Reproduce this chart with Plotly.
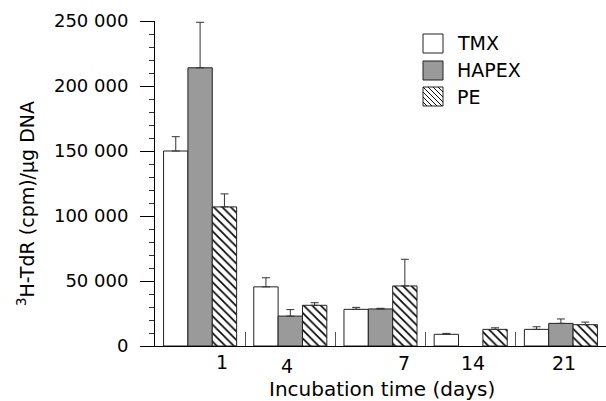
import plotly.graph_objects as go

# ---- data ----
days = ["1", "4", "7", "14", "21"]
tmx = [150000, 45500, 28200, 9000, 12800]
tmx_err = [11000, 7000, 1500, 700, 2000]
hapex = [214000, 23000, 28500, None, 17400]
hapex_err = [35000, 5000, 500, 0, 3400]
pe = [107000, 31300, 46200, 12800, 16400]
pe_err = [10000, 2000, 20500, 1200, 2000]
series_names = ["TMX", "HAPEX", "PE"]
y_tickvals = [0, 50000, 100000, 150000, 200000, 250000]
y_ticktext = ["0", "50 000", "100 000", "150 000", "200 000", "250 000"]

# ---- layout geometry (pixels) ----
W, H = 606, 401
L, R, T, B = 155, 0, 21, 55
PW, PH = W - L - R, H - T - B
FONT = "DejaVu Sans, Arial, sans-serif"
GRAY = "#9a9a9a"
EDGE = "#222222"


def px(xp):
    return (xp - L) / PW


def py(yp):
    return (H - B - yp) / PH


fig = go.Figure()

err_style = dict(type="data", symmetric=False, thickness=1, width=4, color="#333333")

fig.add_trace(go.Bar(
    x=days, y=tmx, name=series_names[0],
    marker=dict(color="white", line=dict(color=EDGE, width=1)),
    error_y=dict(array=tmx_err, arrayminus=[0] * len(days), **err_style),
))
fig.add_trace(go.Bar(
    x=days, y=hapex, name=series_names[1],
    marker=dict(color=GRAY, line=dict(color=EDGE, width=1)),
    error_y=dict(array=hapex_err, arrayminus=[0] * len(days), **err_style),
))
fig.add_trace(go.Bar(
    x=days, y=pe, name=series_names[2],
    marker=dict(color="white", line=dict(color=EDGE, width=1),
                pattern=dict(shape="\\", fgcolor="#000000", bgcolor="white",
                             fgopacity=1, size=6, solidity=0.27)),
    error_y=dict(array=pe_err, arrayminus=[0] * len(days), **err_style),
))

# ---- custom legend ----
shapes = []
annotations = []
leg_x0, leg_x1 = 423, 443
leg_rows = [(34, 53), (61, 80), (87, 106)]
leg_fill = ["white", GRAY, "white"]
for i, (y0, y1) in enumerate(leg_rows):
    shapes.append(dict(type="rect", xref="paper", yref="paper",
                       x0=px(leg_x0), x1=px(leg_x1), y0=py(y1), y1=py(y0),
                       fillcolor=leg_fill[i], line=dict(color=EDGE, width=1)))
    annotations.append(dict(text=series_names[i], xref="paper", yref="paper",
                            x=px(455), y=py((y0 + y1) / 2), xanchor="left",
                            yanchor="middle", showarrow=False,
                            font=dict(family=FONT, size=19, color="black")))
# hatch in PE legend box ("\" direction)
y0, y1 = leg_rows[2]
size = leg_x1 - leg_x0
path = ""
for k in range(-size, size, 5):
    pts = []
    for xa in range(0, size + 1):
        ya = xa - k
        if 0 <= ya <= (y1 - y0):
            pts.append((leg_x0 + xa, y0 + ya))
    if len(pts) >= 2:
        (xa, ya), (xb, yb) = pts[0], pts[-1]
        path += f"M{px(xa):.5f},{py(ya):.5f} L{px(xb):.5f},{py(yb):.5f} "
shapes.append(dict(type="path", xref="paper", yref="paper", path=path,
                   line=dict(color="#111111", width=1)))

# ---- x tick labels (as placed in the reference) ----
label_offsets = [0.24, -0.04, 0.26, 0.02, 0.03]
label_y = [362, 366, 363, 363, 363]
for i, d in enumerate(days):
    annotations.append(dict(text=d, xref="x", yref="paper", x=i + label_offsets[i],
                            y=py(label_y[i]), xanchor="center", yanchor="middle",
                            showarrow=False,
                            font=dict(family=FONT, size=19, color="black")))

# axis titles
annotations.append(dict(text="Incubation time (days)", xref="paper", yref="paper",
                        x=px(382), y=py(389), xanchor="center", yanchor="middle",
                        showarrow=False, font=dict(family=FONT, size=20, color="black")))
annotations.append(dict(text="<sup>3</sup>H-TdR (cpm)/μg DNA", xref="paper", yref="paper",
                        x=px(26), y=py(204), xanchor="center", yanchor="middle",
                        textangle=-90, showarrow=False,
                        font=dict(family=FONT, size=19, color="black")))

fig.update_layout(
    width=W, height=H,
    margin=dict(l=L, r=R, t=T, b=B, pad=0),
    paper_bgcolor="white", plot_bgcolor="white",
    barmode="group", bargap=0.19, bargroupgap=0,
    showlegend=False,
    shapes=shapes, annotations=annotations,
    font=dict(family=FONT, size=18, color="black"),
)
fig.update_xaxes(
    type="category", range=[-0.5, 4.5],
    showline=True, linecolor="black", linewidth=1,
    ticks="inside", tickson="boundaries", ticklen=14, tickcolor="#555555", tickwidth=1,
    showticklabels=False, showgrid=False, zeroline=False,
)
fig.update_yaxes(
    range=[0, 250000],
    tickvals=y_tickvals, ticktext=y_ticktext,
    showline=True, linecolor="black", linewidth=1,
    ticks="outside", ticklen=14, tickcolor="black", tickwidth=1,
    ticklabelstandoff=8,
    minor=dict(dtick=10000, ticks="outside", ticklen=5, tickcolor="#333333", showgrid=False),
    showgrid=False, zeroline=False,
    tickfont=dict(family=FONT, size=18, color="black"),
)

fig.write_html(
    "out.html",
    config={"displayModeBar": False},
    post_script="document.body.style.margin='0';document.body.style.overflow='hidden';",
)
